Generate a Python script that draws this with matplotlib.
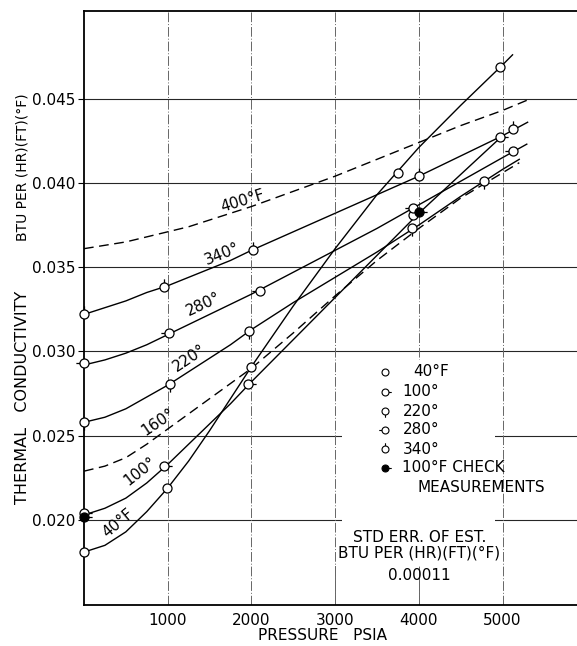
import numpy as np
import matplotlib
matplotlib.use("Agg")
import matplotlib.pyplot as plt
from matplotlib.path import Path
from matplotlib.markers import MarkerStyle
from matplotlib.patches import Rectangle

plt.rcParams['font.family'] = ['DejaVu Sans']

# pressure (psia) at which the isotherms were read
p = [0, 250, 500, 750, 1000, 1250, 1500, 1750, 2000, 2500, 3000, 3500, 4000, 4500, 5000]

# isotherms, thermal conductivity BTU/(hr)(ft)(F)
k400 = [0.0361, 0.0363, 0.0365, 0.0368, 0.0371, 0.0374, 0.0378, 0.0382, 0.0386,
        0.0395, 0.0404, 0.0414, 0.0424, 0.0434, 0.0443]
k340 = [0.0322, 0.0326, 0.0330, 0.0335, 0.0339, 0.0344, 0.0349, 0.0354, 0.0360,
        0.0371, 0.0382, 0.0393, 0.0404, 0.0416, 0.0428]
k280 = [0.0292, 0.0295, 0.0299, 0.0304, 0.0310, 0.0316, 0.0322, 0.0328, 0.0334,
        0.0347, 0.0360, 0.0373, 0.0387, 0.0401, 0.0415]
k220 = [0.0258, 0.0261, 0.0266, 0.0273, 0.0280, 0.0288, 0.0296, 0.0304, 0.0313,
        0.0329, 0.0344, 0.0359, 0.0375, 0.0392, 0.0408]
k160 = [0.0229, 0.0232, 0.0237, 0.0245, 0.0254, 0.0263, 0.0272, 0.0281, 0.0290,
        0.0311, 0.0333, 0.0354, 0.0373, 0.0391, 0.0406]
k100 = [0.0203, 0.0207, 0.0213, 0.0222, 0.0233, 0.0245, 0.0257, 0.0269, 0.0282,
        0.0307, 0.0332, 0.0357, 0.0382, 0.0405, 0.0428]
k40 = [0.0181, 0.0185, 0.0193, 0.0205, 0.0219, 0.0235, 0.0253, 0.0272, 0.0291,
       0.0327, 0.0361, 0.0393, 0.0421, 0.0446, 0.0470]

# end points past 5000 psia
end_p = {'400': 5290, '340': 5300, '280': 5290, '220': 5200, '160': 5200, '100': 5000, '40': 5120}
end_k = {'400': 0.0449, '340': 0.0436, '280': 0.0423, '220': 0.0414, '160': 0.0412, '100': 0.0428, '40': 0.0476}

# measured points
pts40_p = [0, 990, 2000, 3750, 4970]
pts40_k = [0.0181, 0.0219, 0.0291, 0.0406, 0.0469]
pts100_p = [0, 950, 1965, 3935, 4970]
pts100_k = [0.0204, 0.0232, 0.0281, 0.0381, 0.0427]
pts220_p = [0, 1030, 1975, 3915, 4780]
pts220_k = [0.0258, 0.0281, 0.0312, 0.0373, 0.0401]
pts280_p = [0, 1020, 2100, 3925, 5130]
pts280_k = [0.0293, 0.0311, 0.0336, 0.0385, 0.0419]
pts340_p = [0, 950, 2020, 4000, 5130]
pts340_k = [0.0322, 0.03385, 0.0360, 0.0404, 0.0432]
check_p = [0, 4006]
check_k = [0.0202, 0.0383]

xticks = [1000, 2000, 3000, 4000, 5000]
yticks = [0.020, 0.025, 0.030, 0.035, 0.040, 0.045]


def tick_marker(direction):
    circ = Path.unit_circle()
    seg = {'right': [(1, 0), (1.8, 0)], 'left': [(-1, 0), (-1.8, 0)],
           'down': [(0, -1), (0, -1.8)], 'up': [(0, 1), (0, 1.8)]}[direction]
    line = Path(seg, [Path.MOVETO, Path.LINETO])
    return MarkerStyle(Path.make_compound_path(circ, line))


fig = plt.figure(figsize=(5.77, 6.46), dpi=100)
ax = fig.add_axes([84 / 577, 1 - 605 / 646, 1 - 84 / 577, 594 / 646])
ax.set_xlim(0, 5890)
ax.set_ylim(0.01496, 0.0502)

# grid
for y in yticks:
    ax.axhline(y, color='0.15', lw=0.8, zorder=1)
for x in xticks:
    ax.axvline(x, color='0.4', lw=0.7, ls=(0, (10, 2, 1, 2)), zorder=1)
# blank area behind the key
ax.add_patch(Rectangle((3080, 0.0173), 1830, 0.0122, facecolor='white',
                       edgecolor='none', zorder=1.5))
ax.plot([3000, 3000], [0.01496, 0.0173], color='0.4', lw=0.7, zorder=1.6)
ax.plot([4000, 4000], [0.01496, 0.0168], color='0.4', lw=0.7, zorder=1.6)

curves = [('400', k400, '--'), ('340', k340, '-'), ('280', k280, '-'),
          ('220', k220, '-'), ('160', k160, '--'), ('100', k100, '-'),
          ('40', k40, '-')]
for name, k, ls in curves:
    xs = p + [end_p[name]]
    ys = k + [end_k[name]]
    if ls == '--':
        ax.plot(xs, ys, color='black', lw=1.0, ls=(0, (7, 4)), zorder=3)
    else:
        ax.plot(xs, ys, color='black', lw=1.0, zorder=3)

ms = 6.5
mk = dict(ls='none', mfc='white', mec='black', mew=0.9, zorder=5, clip_on=False)
ax.plot(pts40_p, pts40_k, marker='o', ms=ms, **mk)
ax.plot(pts100_p, pts100_k, marker=tick_marker('right'), ms=ms * 1.8, **mk)
ax.plot(pts220_p, pts220_k, marker=tick_marker('down'), ms=ms * 1.8, **mk)
ax.plot(pts280_p, pts280_k, marker=tick_marker('left'), ms=ms * 1.8, **mk)
ax.plot(pts340_p, pts340_k, marker=tick_marker('up'), ms=ms * 1.8, **mk)
ax.plot(check_p, check_k, ls='none', marker=tick_marker('right'), ms=ms * 1.8,
        mfc='black', mec='black', mew=0.9, zorder=6, clip_on=False)

# curve labels
lab = dict(fontsize=11, ha='center', va='center', zorder=4)
ax.text(1900, 0.0389, '400°F', rotation=17, **lab)
ax.text(1645, 0.0358, '340°', rotation=22, **lab)
ax.text(1425, 0.0328, '280°', rotation=25, **lab)
ax.text(1266, 0.0296, '220°', rotation=34, **lab)
ax.text(888, 0.0258, '160°', rotation=34, **lab)
ax.text(669, 0.0229, '100°', rotation=38, **lab)
ax.text(410, 0.0198, '40°F', rotation=40, **lab)

# key
kx = (385 - 84) / 493
rows = [(372, '40°F'), (392, '100°'), (411, '220°'), (430, '280°'), (449, '340°'),
        (468, '100°F CHECK')]
keymarks = ['o', tick_marker('right'), tick_marker('down'), tick_marker('left'),
            tick_marker('up'), tick_marker('right')]
for (py, txt), m in zip(rows, keymarks):
    yy = (605 - py) / 594
    filled = txt.startswith('100°F')
    size = 5 if m == 'o' else 5 * 1.8
    ax.plot([kx], [yy], transform=ax.transAxes, ls='none', marker=m, ms=size,
            mfc='black' if filled else 'white', mec='black', mew=0.8, zorder=6)
    tx = 0.667 if txt == '40°F' else 0.646
    ax.text(tx, yy, txt, transform=ax.transAxes, fontsize=11, va='center', ha='left')
ax.text(0.676, (605 - 487) / 594, 'MEASUREMENTS', transform=ax.transAxes,
        fontsize=11, va='center', ha='left')

ax.text(0.68, (605 - 537) / 594, 'STD ERR. OF EST.', transform=ax.transAxes,
        fontsize=11, ha='center', va='center')
ax.text(0.68, (605 - 553) / 594, 'BTU PER (HR)(FT)(°F)', transform=ax.transAxes,
        fontsize=11, ha='center', va='center')
ax.text(0.68, (605 - 576) / 594, '0.00011', transform=ax.transAxes,
        fontsize=11, ha='center', va='center')

# axes styling
ax.set_xticks(xticks)
ax.set_xticklabels([str(v) for v in xticks], fontsize=11)
ax.set_yticks(yticks)
ax.set_yticklabels(['%.3f' % v for v in yticks], fontsize=11)
ax.tick_params(axis='x', length=0, pad=6)
ax.tick_params(axis='y', length=4, width=0.8, direction='out', pad=2)
ax.spines['right'].set_visible(False)
for s in ['left', 'bottom', 'top']:
    ax.spines[s].set_linewidth(1.3)

fig.text(322 / 577, 1 - 635 / 646, 'PRESSURE   PSIA', fontsize=11,
         ha='center', va='center')
fig.text(23 / 577, 1 - 397 / 646, 'THERMAL   CONDUCTIVITY',
         fontsize=11.5, rotation=90, ha='center', va='center')
fig.text(23 / 577, 1 - 167 / 646, 'BTU PER (HR)(FT)(°F)',
         fontsize=10, rotation=90, ha='center', va='center')

fig.savefig('out.png', dpi=100)
